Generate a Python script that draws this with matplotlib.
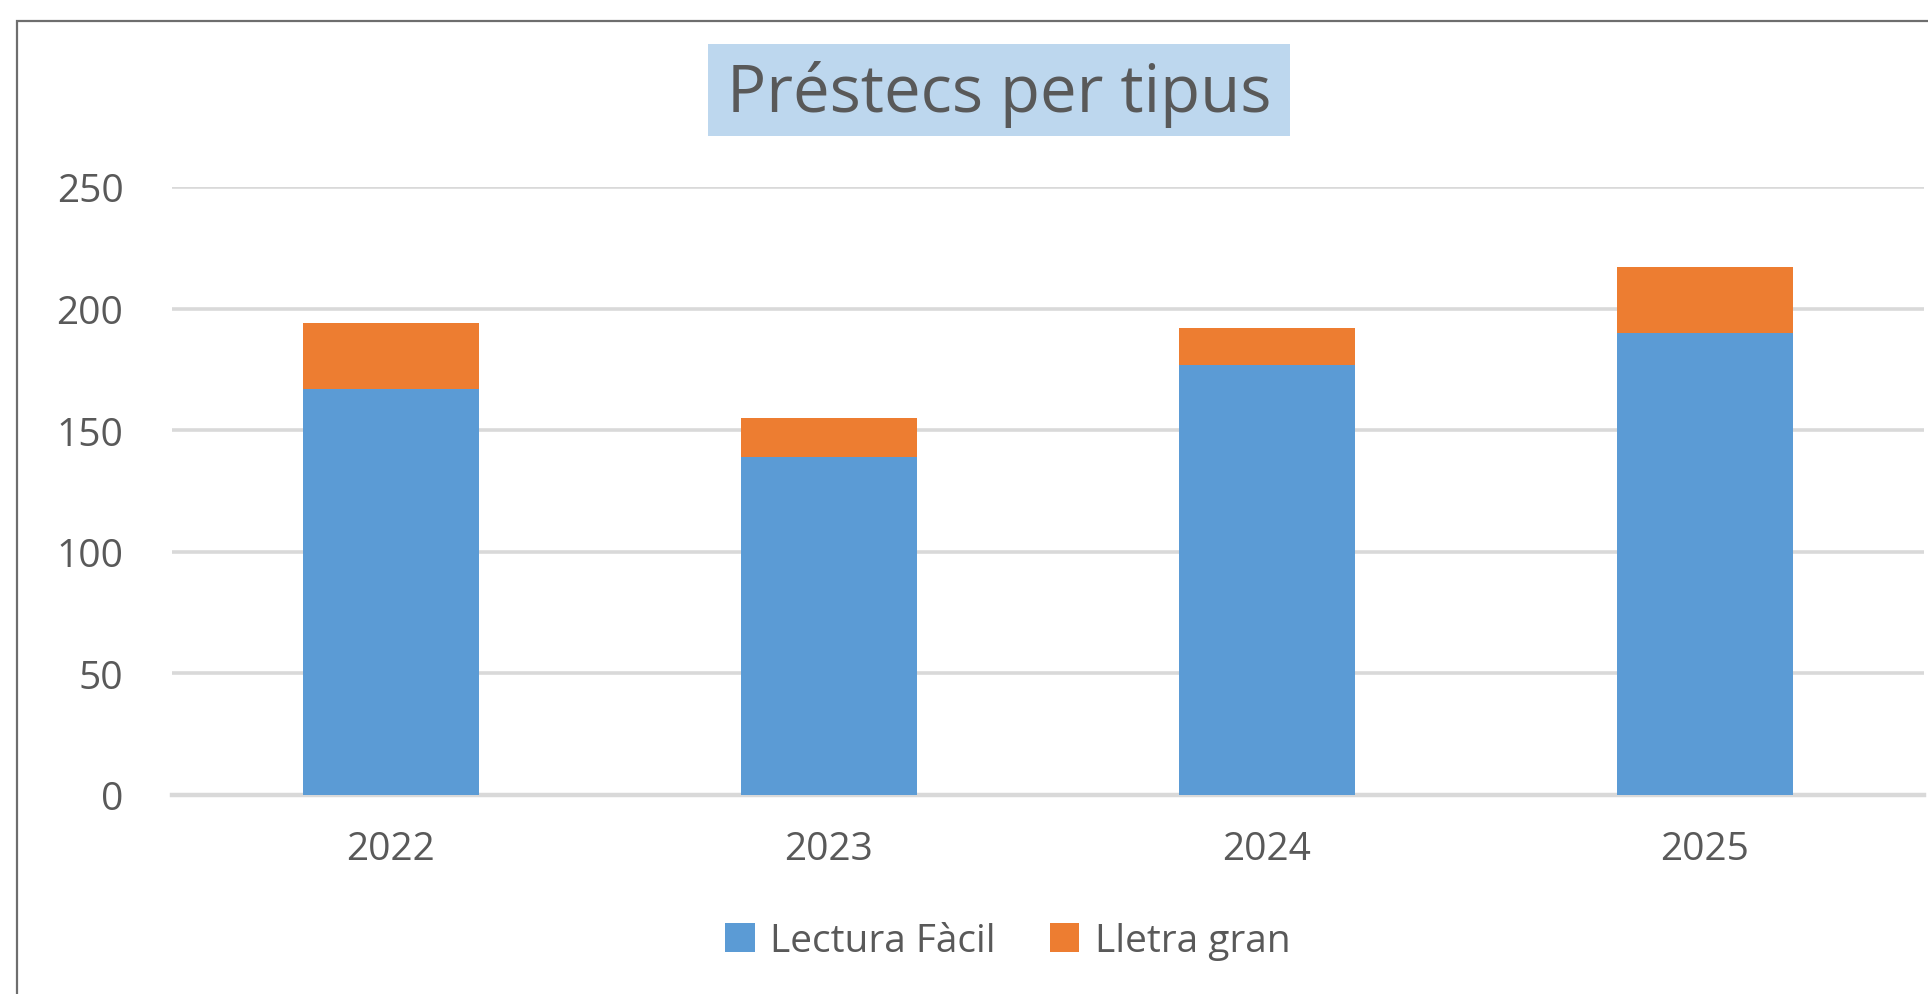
import matplotlib
matplotlib.use("Agg")
import matplotlib.pyplot as plt
from matplotlib.patches import Rectangle, Patch

years = ["2022", "2023", "2024", "2025"]
lectura_facil = [167, 139, 177, 190]
lletra_gran = [27, 16, 15, 27]
series_names = ["Lectura Fàcil", "Lletra gran"]
yticks = [0, 50, 100, 150, 200, 250]

BLUE = "#5B9BD5"
ORANGE = "#ED7D31"
TXT = "#595959"
GRID = "#D9D9D9"

plt.rcParams['font.family'] = ['Open Sans', 'DejaVu Sans']

W, H = 1928, 995
fig = plt.figure(figsize=(W / 100, H / 100), dpi=100)
fig.patch.set_facecolor("white")

# outer chart frame (cut off at right/bottom like the reference)
fig.patches.append(Rectangle((17 / W, -0.1), 1.2, 1 - 22 / H + 0.1, transform=fig.transFigure,
                             fill=False, edgecolor="#6E6E6E", linewidth=1.6, zorder=0))

ax = fig.add_axes([172 / W, 1 - 796 / H, (1924 - 172) / W, (796 - 188) / H])
x = list(range(len(years)))
ax.bar(x, lectura_facil, width=0.4, color=BLUE, label=series_names[0], zorder=3)
ax.bar(x, lletra_gran, width=0.4, bottom=lectura_facil, color=ORANGE, label=series_names[1], zorder=3)

ax.set_xlim(-0.5, len(years) - 0.5)
ax.set_ylim(0, 250)
ax.set_yticks(yticks)
ax.set_xticks(x)
ax.set_xticklabels(years)
ax.yaxis.grid(True, color=GRID, linewidth=2.6, zorder=0)
ax.set_axisbelow(True)
for s in ["top", "right", "left"]:
    ax.spines[s].set_visible(False)
ax.spines["bottom"].set_color(GRID)
ax.spines["bottom"].set_linewidth(3.2)
ax.tick_params(axis="both", length=0, labelsize=28, labelcolor=TXT)
ax.tick_params(axis="y", pad=35)
ax.tick_params(axis="x", pad=25)

# title with light-blue box
fig.patches.append(Rectangle((708 / W, 1 - 137 / H), (1290 - 708) / W, (137 - 45) / H,
                             transform=fig.transFigure, facecolor="#BDD7EE", edgecolor="none", zorder=1))
fig.text(999 / W, 1 - 95 / H, "Préstecs per tipus", ha="center", va="center",
         fontsize=47, color=TXT, zorder=2)

handles = [Patch(facecolor=BLUE), Patch(facecolor=ORANGE)]
fig.legend(handles, series_names, loc="center", bbox_to_anchor=(1008 / W, 1 - 942 / H),
           ncol=2, frameon=False, fontsize=28, labelcolor=TXT, handlelength=0.75,
           handleheight=0.75, handletextpad=0.4, columnspacing=1.4)

fig.savefig("out.png", dpi=100, facecolor="white")
